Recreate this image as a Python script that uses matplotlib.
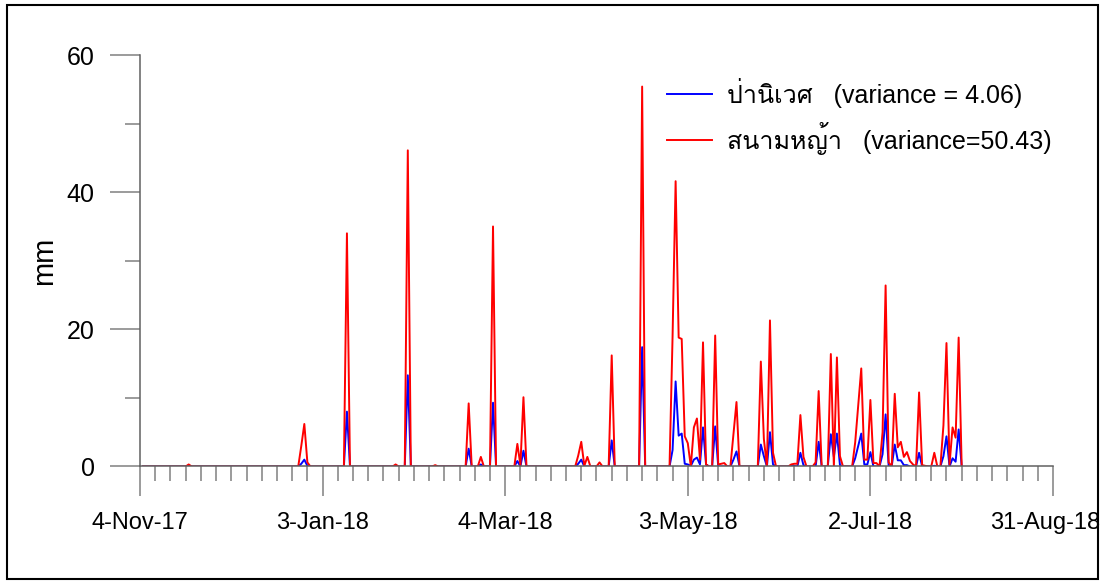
import matplotlib
matplotlib.use("Agg")
import matplotlib.pyplot as plt
import matplotlib.dates as mdates
import matplotlib.transforms as mtransforms
import numpy as np
import pandas as pd
from matplotlib import font_manager
from matplotlib.patches import Rectangle
from matplotlib.ticker import FixedLocator, MultipleLocator

# -------------------------
# DATA (daily rain, mm) - days counted from 4-Nov-17, all other days are 0
# -------------------------
START = pd.Timestamp("2017-11-04")
N_DAYS = 270
rain_day = [16, 53, 54, 55, 68, 84, 88, 97, 108, 112, 116, 124, 125, 126,
            144, 145, 146, 147, 151, 155, 165, 175, 176, 177, 178, 179, 180,
            181, 182, 183, 184, 185, 186, 189, 190, 191, 192, 195, 196, 204,
            205, 207, 208, 214, 215, 216, 217, 218, 222, 223, 227, 228, 229,
            230, 235, 236, 237, 238, 239, 240, 241, 242, 244, 245, 246, 248,
            249, 250, 251, 252, 253, 254, 256, 257, 258, 261, 264, 265, 266,
            267, 268, 269]
pa_niwet = [0.1, 0.4, 1.0, 0.1, 8.0, 0.05, 13.3, 0.05, 2.6, 0.3, 9.3, 0.8, 0.0, 2.3,
            0.4, 1.0, 0.0, 0.0, 0.0, 3.8, 17.4, 2.4, 12.4, 4.5, 4.8, 0.4, 0.3,
            0.1, 1.0, 1.3, 0.3, 5.7, 0.3, 5.85, 0.0, 0.0, 0.0, 1.0, 2.2, 3.2,
            1.5, 5.0, 0.3, 0.1, 0.1, 0.0, 2.0, 0.2, 0.0, 3.6, 4.7, 1.4, 4.8,
            0.2, 1.2, 3.0, 4.8, 0.3, 0.3, 2.1, 0.0, 0.0, 1.8, 7.6, 0.1, 3.2,
            0.9, 0.9, 0.2, 0.2, 0.0, 0.0, 2.0, 0.0, 0.0, 0.1, 1.5, 4.4, 0.0,
            1.2, 0.7, 5.4]
sanam_ya = [0.3, 3.0, 6.2, 0.6, 34.0, 0.3, 46.1, 0.2, 9.2, 1.4, 35.0, 3.3, 0.2, 10.1,
            1.6, 3.6, 0.1, 1.4, 0.6, 16.2, 55.4, 19.0, 41.6, 18.8, 18.6, 4.4, 3.4,
            0.0, 5.7, 7.0, 1.0, 18.1, 0.3, 19.1, 0.3, 0.4, 0.5, 4.7, 9.4, 15.3,
            4.0, 21.3, 2.0, 0.3, 0.4, 0.4, 7.5, 1.4, 0.6, 11.0, 16.4, 0.0, 15.9,
            1.5, 3.5, 9.0, 14.3, 1.0, 1.0, 9.7, 0.5, 0.5, 5.0, 26.4, 0.6, 10.6,
            2.8, 3.6, 1.4, 2.1, 0.8, 0.3, 10.8, 0.2, 0.1, 2.0, 6.0, 18.0, 0.3,
            5.7, 4.2, 18.8]

label_pa = "ป่านิเวศ   (variance = 4.06)"
label_sanam = "สนามหญ้า   (variance=50.43)"
x_range = ["2017-11-04", "2018-08-31"]
major_dates = ["2017-11-04", "2018-01-03", "2018-03-04", "2018-05-03", "2018-07-02", "2018-08-31"]


def find_thai_font():
    # first installed font that has Thai glyphs (incl. tone mark)
    try:
        from fontTools.ttLib import TTFont
    except ImportError:
        return None
    found = []
    for fe in font_manager.fontManager.ttflist:
        try:
            f = TTFont(fe.fname, fontNumber=0, lazy=True)
            cmap = f.getBestCmap()
        except Exception:
            continue
        if cmap and 0x0E1B in cmap and 0x0E48 in cmap:
            found.append(fe.name)
    if not found:
        return None
    pref = [n for n in found if "Sans" in n or n in ("Loma", "Garuda", "Waree", "Tlwg Typo")]
    return (pref or found)[0]


thai = find_thai_font()
families = ["Liberation Sans", "DejaVu Sans"]
if thai:
    families = ["Liberation Sans", thai, "DejaVu Sans"]
plt.rcParams["font.family"] = families

days = np.arange(1, N_DAYS + 1)
dates = START + pd.to_timedelta(days, unit="D")
s_pa = pd.Series(0.0, index=days)
s_sa = pd.Series(0.0, index=days)
s_pa.loc[rain_day] = pa_niwet
s_sa.loc[rain_day] = sanam_ya

fig = plt.figure(figsize=(11.04, 5.84), dpi=100)
ax = fig.add_axes([0.1268, 0.2012, 0.827, 0.7046])

ax.plot(dates, s_pa.values, color="#0000ff", lw=1.4, label=label_pa)
ax.plot(dates, s_sa.values, color="#ff0000", lw=1.4, label=label_sanam)

ax.set_xlim(pd.Timestamp(x_range[0]), pd.Timestamp(x_range[1]))
ax.set_ylim(0, 60)

major = [mdates.date2num(pd.Timestamp(d)) for d in major_dates]
minor = [mdates.date2num(d) for d in pd.date_range(x_range[0], x_range[1], freq="5D")]
ax.xaxis.set_major_locator(FixedLocator(major))
ax.xaxis.set_minor_locator(FixedLocator(minor))
ax.xaxis.set_major_formatter(mdates.DateFormatter("%-d-%b-%y"))
ax.yaxis.set_major_locator(MultipleLocator(20))
ax.yaxis.set_minor_locator(MultipleLocator(10))

for side in ("top", "right"):
    ax.spines[side].set_visible(False)
for side in ("left", "bottom"):
    ax.spines[side].set_color("#606060")
    ax.spines[side].set_linewidth(1.1)

ax.tick_params(which="major", length=21.6, width=1.1, color="#808080")
ax.tick_params(which="minor", length=10.8, width=1.1, color="#808080")
ax.tick_params(axis="x", which="major", labelsize=17, pad=11)
ax.tick_params(axis="y", which="major", labelsize=18, pad=11)
ax.set_ylabel("mm", fontsize=21, labelpad=6)

# last date label sits at the figure edge: nudge it left a little so it stays inside
fig.canvas.draw()
last_lbl = ax.get_xticklabels()[-1]
last_lbl.set_transform(last_lbl.get_transform()
                       + mtransforms.ScaledTranslation(-8 / 100, 0, fig.dpi_scale_trans))

ax.legend(loc="upper left", bbox_to_anchor=(0.564, 0.975), frameon=False, fontsize=18,
          handlelength=1.8, handletextpad=0.58, labelspacing=0.55, borderpad=0)

fig.patches.append(Rectangle((0.006, 0.008), 0.989, 0.984, transform=fig.transFigure,
                             fill=False, edgecolor="black", lw=1.5))

fig.savefig("out.png", dpi=100)
